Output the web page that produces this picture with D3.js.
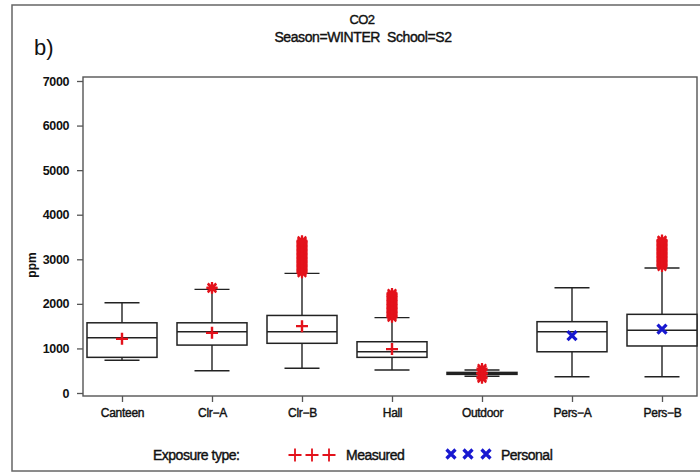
<!DOCTYPE html>
<html>
<head>
<meta charset="utf-8">
<script src="https://cdn.jsdelivr.net/npm/d3@7"></script>
<style>
  body { margin: 0; background: #fff; }
  svg text { font-family: "Liberation Sans", Arial, sans-serif; fill: #111; }
  .heavy { stroke: #111; stroke-width: 0.4px; }
</style>
</head>
<body>
<svg id="chart" width="700" height="474"></svg>
<script>
// box statistics (ppm)
var categories = ["Canteen", "Clr\u2212A", "Clr\u2212B", "Hall", "Outdoor", "Pers\u2212A", "Pers\u2212B"];
var exposure   = ["Measured", "Measured", "Measured", "Measured", "Measured", "Personal", "Personal"];
var whisk_low  = [735, 500, 555, 515, 375, 365, 365];
var q1         = [800, 1075, 1115, 800, 418, 925, 1055];
var medians    = [1240, 1375, 1375, 925, 438, 1375, 1410];
var q3         = [1575, 1575, 1740, 1150, 462, 1600, 1765];
var whisk_high = [2025, 2325, 2685, 1690, 515, 2360, 2805];
var means      = [1215, 1350, 1500, 985, 440, 1285, 1435];

var outliers = [
  [],
  [2350, 2365],
  [2700, 2730, 2760, 2790, 2820, 2850, 2880, 2910, 2940, 2970, 3000, 3030, 3060, 3090,
   3120, 3150, 3180, 3210, 3240, 3270, 3300, 3330, 3360, 3390, 3415],
  [1700, 1730, 1760, 1790, 1820, 1850, 1880, 1910, 1940, 1970, 2000, 2030, 2060, 2090,
   2120, 2150, 2180, 2210, 2235],
  [330, 360, 520, 550],
  [],
  [2840, 2870, 2900, 2930, 2960, 2990, 3020, 3050, 3080, 3110, 3140, 3170, 3200, 3230,
   3260, 3290, 3320, 3350, 3380, 3410, 3430]
];

var y_ticks = [0, 1000, 2000, 3000, 4000, 5000, 6000, 7000];

var red = "#e3121b";
var blue = "#1818d0";

var svg = d3.select("#chart");

var frame = {left: 83, right: 697, top: 77, bottom: 396};
var y = d3.scaleLinear().domain([0, 7000]).range([393, 81]);
var x = d3.scalePoint().domain(categories).range([122, 662]);
var box_w = 70;
var cap_w = 35;

// outer border
svg.append("rect")
  .attr("x", 12).attr("y", 5).attr("width", 700).attr("height", 466)
  .attr("fill", "none").attr("stroke", "#666").attr("stroke-width", 1.5);

// titles
svg.append("text").attr("class", "heavy").attr("x", 362).attr("y", 24).attr("text-anchor", "middle")
  .style("font-size", "13px").style("letter-spacing", "-0.6px").text("CO2");
svg.append("text").attr("class", "heavy").attr("x", 363).attr("y", 42).attr("text-anchor", "middle")
  .style("font-size", "14px").style("letter-spacing", "-0.4px")
  .attr("xml:space", "preserve").text("Season=WINTER  School=S2");
svg.append("text").attr("x", 34).attr("y", 55)
  .style("font-size", "22px").text("b)");

// frame
svg.append("rect")
  .attr("x", frame.left).attr("y", frame.top)
  .attr("width", frame.right - frame.left).attr("height", frame.bottom - frame.top)
  .attr("fill", "none").attr("stroke", "#555").attr("stroke-width", 1.4);

// y axis
var yAxis = svg.append("g").attr("transform", "translate(" + frame.left + ",0)")
  .call(d3.axisLeft(y).tickValues(y_ticks).tickSize(6).tickPadding(8).tickFormat(d3.format("d")));
yAxis.select(".domain").remove();
yAxis.selectAll("line").attr("stroke", "#555").attr("stroke-width", 1.3);
yAxis.selectAll("text").style("font-size", "12.5px").style("font-weight", "bold")
  .style("letter-spacing", "-0.4px")
  .style("font-family", "'Liberation Sans', Arial, sans-serif").attr("fill", "#111");

svg.append("text")
  .attr("transform", "translate(36,265) rotate(-90)")
  .attr("text-anchor", "middle").style("font-size", "12px").style("font-weight", "bold")
  .text("ppm");

// x axis
var xAxis = svg.append("g").attr("transform", "translate(0," + frame.bottom + ")")
  .call(d3.axisBottom(x).tickSize(6).tickPadding(6).tickSizeOuter(0));
xAxis.select(".domain").remove();
xAxis.selectAll("line").attr("stroke", "#555").attr("stroke-width", 1.3);
xAxis.selectAll("text").attr("class", "heavy").style("font-size", "12px")
  .style("letter-spacing", "-0.3px")
  .style("font-family", "'Liberation Sans', Arial, sans-serif").attr("fill", "#111");

// markers
function plus_path(s) { return "M" + (-s) + ",0H" + s + "M0," + (-s) + "V" + s; }
function cross_path(s) { return "M" + (-s) + "," + (-s) + "L" + s + "," + s + "M" + (-s) + "," + s + "L" + s + "," + (-s); }

var rows = categories.map(function(c, i) {
  return {cat: c, type: exposure[i], lo: whisk_low[i], q1: q1[i], med: medians[i],
          q3: q3[i], hi: whisk_high[i], mean: means[i], out: outliers[i]};
});

var boxes = svg.selectAll(".box").data(rows).enter().append("g")
  .attr("class", "box")
  .attr("transform", function(d) { return "translate(" + x(d.cat) + ",0)"; });

// whiskers
boxes.append("line").attr("x1", 0).attr("x2", 0)
  .attr("y1", function(d) { return y(d.hi); }).attr("y2", function(d) { return y(d.q3); })
  .attr("stroke", "#222").attr("stroke-width", 1.4);
boxes.append("line").attr("x1", 0).attr("x2", 0)
  .attr("y1", function(d) { return y(d.q1); }).attr("y2", function(d) { return y(d.lo); })
  .attr("stroke", "#222").attr("stroke-width", 1.4);
boxes.append("line").attr("x1", -cap_w / 2).attr("x2", cap_w / 2)
  .attr("y1", function(d) { return y(d.hi); }).attr("y2", function(d) { return y(d.hi); })
  .attr("stroke", "#222").attr("stroke-width", 1.4);
boxes.append("line").attr("x1", -cap_w / 2).attr("x2", cap_w / 2)
  .attr("y1", function(d) { return y(d.lo); }).attr("y2", function(d) { return y(d.lo); })
  .attr("stroke", "#222").attr("stroke-width", 1.4);

// boxes
boxes.append("rect").attr("x", -box_w / 2).attr("width", box_w)
  .attr("y", function(d) { return y(d.q3); })
  .attr("height", function(d) { return y(d.q1) - y(d.q3); })
  .attr("fill", "#fff").attr("stroke", "#222").attr("stroke-width", 1.5);
boxes.append("line").attr("x1", -box_w / 2).attr("x2", box_w / 2)
  .attr("y1", function(d) { return y(d.med); }).attr("y2", function(d) { return y(d.med); })
  .attr("stroke", "#222").attr("stroke-width", 1.5);

// outliers (asterisks)
boxes.each(function(d) {
  var g = d3.select(this);
  g.selectAll(".out").data(d.out).enter().append("path")
    .attr("class", "out")
    .attr("transform", function(v) { return "translate(0," + y(v) + ")"; })
    .attr("d", plus_path(5.5) + cross_path(4.2))
    .attr("fill", "none").attr("stroke", red).attr("stroke-width", 2.2);
});

// means
boxes.append("path")
  .attr("transform", function(d) { return "translate(0," + y(d.mean) + ")"; })
  .attr("d", function(d) { return d.type === "Personal" ? cross_path(4.5) : plus_path(6); })
  .attr("fill", "none")
  .attr("stroke", function(d) { return d.type === "Personal" ? blue : red; })
  .attr("stroke-width", function(d) { return d.type === "Personal" ? 3.2 : 2.4; });

// legend
var legend = svg.append("g");
legend.append("text").attr("class", "heavy").attr("x", 153).attr("y", 460).style("font-size", "14px")
  .style("letter-spacing", "-0.5px").text("Exposure type:");
[295, 312, 329].forEach(function(px) {
  legend.append("path").attr("transform", "translate(" + px + ",455)")
    .attr("d", plus_path(6.5)).attr("fill", "none").attr("stroke", red).attr("stroke-width", 1.8);
});
legend.append("text").attr("class", "heavy").attr("x", 346).attr("y", 460).style("font-size", "14px")
  .style("letter-spacing", "-0.5px").text("Measured");
[451, 468, 486].forEach(function(px) {
  legend.append("path").attr("transform", "translate(" + px + ",454)")
    .attr("d", cross_path(4.5)).attr("fill", "none").attr("stroke", blue).attr("stroke-width", 3.2);
});
legend.append("text").attr("class", "heavy").attr("x", 501).attr("y", 460).style("font-size", "14px")
  .style("letter-spacing", "-0.5px").text("Personal");
</script>
</body>
</html>
